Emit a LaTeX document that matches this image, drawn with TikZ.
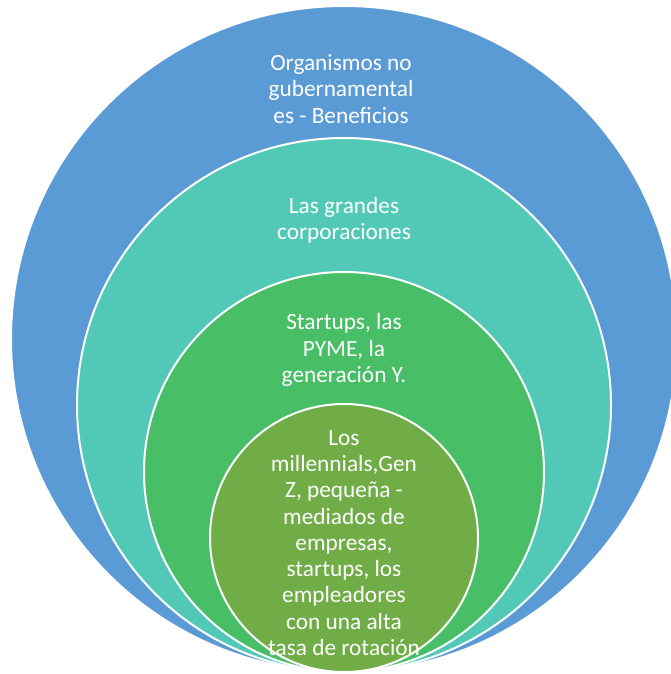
\documentclass[tikz,border=0pt]{standalone}
\usepackage{fontspec}
\setmainfont{Carlito}

\definecolor{ongblue}{RGB}{91,155,213}
\definecolor{corpteal}{RGB}{82,201,182}
\definecolor{pymegreen}{RGB}{72,190,102}
\definecolor{millgreen}{RGB}{112,173,71}

\tikzset{
  ring/.style={draw=white, line width=2pt},
  lbl/.style={text=white, align=center, inner sep=0pt,
    font=\fontsize{23.3}{26.3}\selectfont}
}

\begin{document}
\begin{tikzpicture}[x=1pt, y=-1pt]

\newcommand\CX{344}
\newcommand\BOT{672}

\useasboundingbox (0,0) rectangle (670,674);

%% rings, all touching at the bottom
\draw[ring, fill=ongblue] (\CX, \BOT-333) circle (333pt);

\draw[ring, fill=corpteal] (\CX, \BOT-267) circle (267pt);

\draw[ring, fill=pymegreen] (\CX, \BOT-200) circle (200pt);

\draw[ring, fill=millgreen] (\CX, \BOT-134) circle (134pt);

%% labels
\node[lbl] (ongtxt) at (\CX-3, 89) {Organismos no\\gubernamental\\es - Beneficios};

\node[lbl] (corptxt) at (\CX, 220) {Las grandes\\corporaciones};

\node[lbl] (pymetxt) at (\CX, 350) {Startups, las\\PYME, la\\generación Y.};

\node[lbl] (milltxt) at (\CX, 543) {Los\\millennials,Gen\\Z, pequeña -\\mediados de\\empresas,\\startups, los\\empleadores\\con una alta\\tasa de rotación};

\end{tikzpicture}
\end{document}
